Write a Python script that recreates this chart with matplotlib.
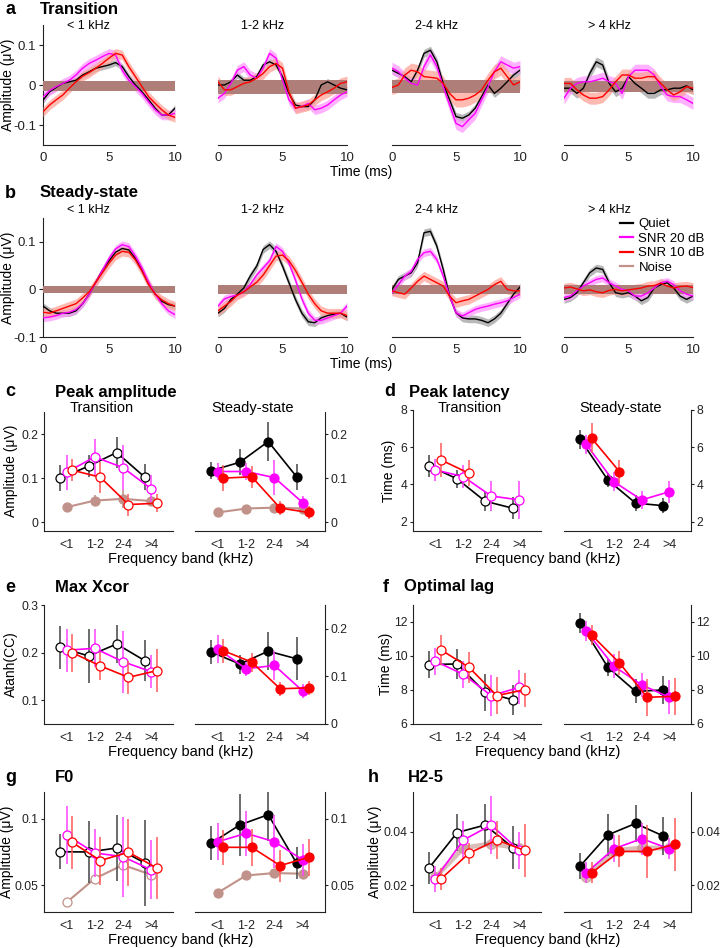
import numpy as np
import matplotlib
matplotlib.use("Agg")
import matplotlib.pyplot as plt
from matplotlib.lines import Line2D
from matplotlib.ticker import FuncFormatter

plt.rcParams['font.family'] = ['Liberation Sans', 'DejaVu Sans']
plt.rcParams['axes.unicode_minus'] = False

W, H = 722, 948

# ---------------- data ----------------
band_titles = ['< 1 kHz', '1-2 kHz', '2-4 kHz', '> 4 kHz']
band_ticks = ['<1', '1-2', '2-4', '>4']
cond_names = ['Quiet', 'SNR 20 dB', 'SNR 10 dB', 'Noise']
t_ms = np.arange(0, 10.01, 0.5)

# panel a: transition waveforms (uV), one list per band
trans_quiet = [
    [-0.038, -0.017, -0.006, 0.004, 0.008, 0.012, 0.025, 0.033, 0.042, 0.046, 0.05, 0.056, 0.046, 0.021, 0.0, -0.017, -0.037, -0.058, -0.075, -0.075, -0.058],
    [0.0, 0.0, 0.008, 0.025, 0.012, 0.012, 0.021, 0.05, 0.058, 0.05, 0.021, -0.021, -0.05, -0.054, -0.054, -0.037, 0.0, 0.008, 0.0, -0.008, -0.012],
    [0.037, 0.029, 0.021, 0.008, 0.037, 0.079, 0.087, 0.058, 0.004, -0.037, -0.079, -0.083, -0.075, -0.058, -0.029, 0.0, -0.021, -0.008, 0.008, 0.025, 0.037],
    [-0.008, -0.008, -0.021, -0.008, 0.029, 0.058, 0.05, 0.004, -0.017, -0.008, 0.021, 0.004, -0.008, -0.021, -0.021, -0.012, -0.012, -0.008, -0.008, -0.002, -0.012],
]
trans_snr20 = [
    [-0.03, -0.014, -0.004, 0.004, 0.012, 0.025, 0.042, 0.054, 0.062, 0.071, 0.079, 0.075, 0.037, 0.012, -0.004, -0.021, -0.042, -0.062, -0.075, -0.075, -0.071],
    [-0.033, -0.021, 0.004, 0.037, 0.046, 0.025, 0.017, 0.042, 0.079, 0.067, 0.012, -0.037, -0.058, -0.054, -0.046, -0.062, -0.058, -0.05, -0.037, -0.025, -0.017],
    [0.042, 0.033, 0.017, 0.004, 0.0, 0.046, 0.075, 0.046, -0.004, -0.05, -0.096, -0.104, -0.087, -0.071, -0.037, -0.004, 0.033, 0.058, 0.05, 0.042, 0.046],
    [-0.033, -0.008, 0.004, 0.008, 0.008, 0.012, 0.017, 0.008, 0.004, -0.021, 0.021, 0.037, 0.037, 0.037, 0.025, -0.004, -0.025, -0.029, -0.029, -0.037, -0.046],
]
trans_snr10 = [
    [-0.067, -0.05, -0.037, -0.025, -0.008, 0.008, 0.022, 0.031, 0.042, 0.054, 0.067, 0.079, 0.075, 0.046, 0.021, -0.004, -0.029, -0.046, -0.062, -0.075, -0.081],
    [0.008, -0.012, -0.012, -0.004, 0.004, 0.008, 0.017, 0.029, 0.046, 0.054, 0.042, -0.017, -0.058, -0.054, -0.05, -0.037, -0.025, -0.017, -0.008, 0.004, 0.008],
    [-0.006, 0.0, 0.025, 0.037, 0.033, 0.021, 0.019, 0.017, 0.004, -0.021, -0.037, -0.037, -0.033, -0.025, -0.012, 0.012, 0.033, 0.042, 0.021, 0.0, 0.008],
    [0.004, 0.004, -0.012, -0.025, -0.033, -0.033, -0.029, -0.012, 0.008, 0.025, 0.025, 0.017, 0.017, 0.021, 0.021, 0.004, -0.012, -0.025, -0.017, -0.004, -0.008],
]
trans_sem = [[0.008, 0.008, 0.01, 0.012], [0.012, 0.012, 0.015, 0.015], [0.012, 0.014, 0.018, 0.015]]
noise_trans_mid = [-0.003, -0.005, -0.004, -0.003]
noise_trans_sem = [0.013, 0.017, 0.016, 0.014]

# panel b: steady-state waveforms (uV)
steady_quiet = [
    [-0.035, -0.045, -0.05, -0.05, -0.05, -0.045, -0.03, -0.01, 0.015, 0.04, 0.06, 0.078, 0.086, 0.083, 0.065, 0.04, 0.012, -0.01, -0.025, -0.032, -0.035],
    [-0.05, -0.04, -0.021, -0.01, 0.003, 0.028, 0.049, 0.084, 0.094, 0.08, 0.049, 0.014, -0.021, -0.05, -0.068, -0.07, -0.06, -0.055, -0.052, -0.05, -0.058],
    [0.0, 0.021, 0.028, 0.035, 0.056, 0.119, 0.122, 0.091, 0.042, -0.014, -0.049, -0.06, -0.062, -0.062, -0.065, -0.07, -0.062, -0.05, -0.03, -0.01, 0.005],
    [-0.021, -0.017, -0.007, 0.014, 0.035, 0.045, 0.042, 0.014, -0.007, -0.01, -0.007, -0.014, -0.024, -0.017, 0.003, 0.01, 0.014, 0.003, -0.014, -0.021, -0.014],
]
steady_snr20 = [
    [-0.06, -0.058, -0.055, -0.05, -0.048, -0.042, -0.03, -0.01, 0.015, 0.04, 0.065, 0.085, 0.094, 0.09, 0.07, 0.045, 0.015, -0.01, -0.03, -0.045, -0.053],
    [-0.035, -0.02, -0.015, -0.012, -0.005, 0.01, 0.03, 0.045, 0.06, 0.09, 0.08, 0.055, 0.02, -0.02, -0.05, -0.065, -0.065, -0.06, -0.055, -0.05, -0.035],
    [-0.007, 0.01, 0.028, 0.038, 0.063, 0.077, 0.08, 0.063, 0.028, -0.014, -0.049, -0.056, -0.049, -0.042, -0.038, -0.035, -0.031, -0.028, -0.024, -0.017, -0.01],
    [-0.017, -0.014, -0.003, 0.007, 0.014, 0.021, 0.024, 0.014, 0.007, 0.0, -0.003, -0.014, -0.014, -0.007, 0.003, 0.014, 0.017, 0.01, -0.003, -0.01, -0.014],
]
steady_snr10 = [
    [-0.048, -0.05, -0.045, -0.04, -0.035, -0.03, -0.018, -0.005, 0.015, 0.035, 0.055, 0.072, 0.08, 0.078, 0.062, 0.038, 0.01, -0.01, -0.022, -0.03, -0.035],
    [-0.045, -0.035, -0.025, -0.012, -0.005, 0.005, 0.015, 0.03, 0.05, 0.07, 0.072, 0.06, 0.04, 0.015, -0.01, -0.03, -0.045, -0.05, -0.05, -0.05, -0.055],
    [-0.003, -0.007, -0.01, 0.003, 0.017, 0.028, 0.021, 0.014, 0.007, -0.014, -0.028, -0.024, -0.021, -0.014, -0.007, 0.0, 0.01, 0.017, 0.0, -0.003, -0.003],
    [0.003, 0.005, 0.001, -0.003, -0.001, -0.005, -0.007, -0.002, 0.0, -0.003, -0.001, 0.001, 0.003, 0.007, 0.008, 0.013, 0.007, 0.003, 0.006, 0.007, 0.004],
]
steady_sem = [[0.007, 0.008, 0.008, 0.008], [0.008, 0.008, 0.008, 0.008], [0.01, 0.01, 0.01, 0.01]]
noise_steady_mid = [0.0, 0.0, 0.0, 0.0]
noise_steady_sem = [0.008, 0.009, 0.01, 0.009]

nan = np.nan
# summary panels: rows = quiet, snr20, snr10, (noise)
peak_amp_trans = [[0.10, 0.127, 0.158, 0.102], [0.113, 0.148, 0.124, 0.076], [0.118, 0.102, 0.04, 0.043], [0.034, 0.049, 0.053, 0.048]]
peak_amp_trans_err = [[0.03, 0.025, 0.035, 0.03], [0.04, 0.04, 0.05, 0.03], [0.025, 0.035, 0.025, 0.02], [0.01, 0.012, 0.02, 0.012]]
peak_amp_steady = [[0.117, 0.136, 0.183, 0.103], [0.115, 0.115, 0.101, 0.044], [0.1, 0.103, 0.032, 0.022], [0.022, 0.031, 0.033, 0.031]]
peak_amp_steady_err = [[0.02, 0.03, 0.045, 0.03], [0.02, 0.02, 0.04, 0.015], [0.03, 0.025, 0.015, 0.015], [0.005, 0.006, 0.006, 0.006]]

peak_lat_trans = [[5.0, 4.3, 3.1, 2.72], [4.78, 4.42, 3.38, 3.17], [5.32, 4.6, nan, nan]]
peak_lat_trans_err = [[0.6, 0.5, 0.5, 0.6], [0.6, 0.6, 0.8, 1.0], [0.9, 0.7, nan, nan]]
peak_lat_steady = [[6.43, 4.24, 3.0, 2.86], [6.16, 4.15, 3.17, 3.61], [6.48, 4.69, nan, nan]]
peak_lat_steady_err = [[0.5, 0.4, 0.45, 0.4], [0.5, 0.5, 0.5, 0.6], [0.8, 0.6, nan, nan]]

xcor_trans = [[0.211, 0.193, 0.218, 0.183], [0.205, 0.209, 0.181, 0.16], [0.2, 0.172, 0.148, 0.162]]
xcor_trans_err = [[0.045, 0.056, 0.04, 0.043], [0.045, 0.04, 0.065, 0.035], [0.04, 0.03, 0.035, 0.045]]
xcor_steady = [[0.151, 0.126, 0.153, 0.137], [0.158, 0.116, 0.123, 0.069], [0.154, 0.13, 0.074, 0.076]]
xcor_steady_err = [[0.025, 0.02, 0.04, 0.045], [0.03, 0.015, 0.03, 0.015], [0.025, 0.02, 0.015, 0.015]]

lag_trans = [[9.5, 9.53, 7.86, 7.42], [9.69, 8.92, 7.67, 8.15], [10.36, 9.34, 7.67, 8.02]]
lag_trans_err = [[0.8, 0.9, 1.1, 0.9], [0.8, 0.8, 1.2, 1.0], [0.9, 0.9, 1.1, 1.0]]
lag_steady = [[11.95, 9.34, 7.92, 8.0], [11.47, 9.4, 8.3, 7.57], [11.23, 9.59, 7.57, 7.63]]
lag_steady_err = [[0.6, 0.5, 0.7, 0.8], [0.6, 0.7, 0.7, 1.0], [0.6, 0.7, 1.1, 1.1]]

f0_trans = [[0.0752, 0.075, 0.078, 0.0668], [0.0878, 0.0743, 0.0715, 0.0617], [0.0822, 0.0686, 0.0748, 0.0631], [0.0372, 0.055, 0.0653, 0.058]]
f0_trans_err = [[0.013, 0.023, 0.025, 0.032], [0.022, 0.018, 0.03, 0.022], [0.02, 0.018, 0.025, 0.023], [0.001, 0.001, 0.001, 0.001]]
f0_steady = [[0.0817, 0.0953, 0.103, 0.0666], [0.0827, 0.089, 0.0827, 0.069], [0.0785, 0.0785, 0.0648, 0.071], [0.0444, 0.0574, 0.0592, 0.0587]]
f0_steady_err = [[0.013, 0.023, 0.02, 0.012], [0.014, 0.017, 0.02, 0.012], [0.013, 0.014, 0.012, 0.014], [0.001, 0.001, 0.001, 0.001]]

h25_trans = [[0.0266, 0.0398, 0.0426, 0.0341], [0.0224, 0.037, 0.0426, 0.0331], [0.0224, 0.032, 0.037, 0.0331], [0.023, 0.034, 0.0356, 0.034]]
h25_trans_err = [[0.006, 0.007, 0.008, 0.008], [0.005, 0.007, 0.011, 0.007], [0.004, 0.004, 0.007, 0.01], [0.001, 0.001, 0.001, 0.001]]
h25_steady = [[0.0272, 0.0389, 0.0432, 0.0385], [0.0247, 0.0337, 0.0375, 0.0337], [0.0247, 0.0327, 0.0327, 0.0354], [0.023, 0.033, 0.034, 0.034]]
h25_steady_err = [[0.005, 0.008, 0.007, 0.007], [0.004, 0.005, 0.006, 0.004], [0.004, 0.006, 0.01, 0.01], [0.001, 0.001, 0.001, 0.001]]

# ---------------- style ----------------
line_col = ['black', '#FF00FF', '#FF0000', '#C0928A']
fill_col = ['#A0A0A0', '#FF99FF', '#FFA399']
err_col = ['#444444', '#FF44FF', '#FF5A5A', '#C0928A']
noise_band_col = '#B07E78'
offsets = [-0.22, 0.0, 0.2, 0.0]
fmt = FuncFormatter(lambda v, p: '%g' % v)

fig = plt.figure(figsize=(W / 100, H / 100), dpi=100)


def add_ax(x0, y0, x1, y1):
    return fig.add_axes([x0 / W, 1 - y1 / H, (x1 - x0) / W, (y1 - y0) / H])


def ftxt(x, y, s, **kw):
    kw.setdefault('va', 'center')
    fig.text(x / W, 1 - y / H, s, **kw)


def style_ax(ax, size=9.5):
    for sp in ax.spines.values():
        sp.set_linewidth(0.8)
        sp.set_color('#222222')
    ax.tick_params(labelsize=size, width=0.8, length=3, colors='#222222', pad=2)
    ax.patch.set_alpha(0)


wave_x = [(43, 175), (218, 347), (392, 520), (564, 693)]


def draw_waves(y0, y1, ylim, curves, sems, nmid, nsem, title_y):
    axes = []
    for b in range(4):
        ax = add_ax(wave_x[b][0], y0, wave_x[b][1], y1)
        style_ax(ax)
        for c in range(3):
            y = np.array(curves[c][b])
            ax.fill_between(t_ms, y - sems[c][b], y + sems[c][b], color=fill_col[c],
                            lw=0, alpha=0.75, zorder=1 + c)
        ax.fill_between(t_ms, np.full(t_ms.size, nmid[b] - nsem[b]), np.full(t_ms.size, nmid[b] + nsem[b]),
                        color=noise_band_col, lw=0, zorder=4)
        for c in range(3):
            ax.plot(t_ms, curves[c][b], color=line_col[c], lw=1.0, zorder=5 + c)
        ax.set_xlim(0, 10)
        ax.set_ylim(*ylim)
        ax.set_xticks([0, 5, 10])
        ax.tick_params(axis='x', length=0, pad=5)
        ax.spines['top'].set_visible(False)
        ax.spines['right'].set_visible(False)
        if b == 0:
            ax.set_yticks([-0.1, 0, 0.1])
            ax.yaxis.set_major_formatter(fmt)
        else:
            ax.spines['left'].set_visible(False)
            ax.set_yticks([])
        ftxt(wave_x[b][0] + 45, title_y, band_titles[b], ha='center', fontsize=9)
        axes.append(ax)
    return axes


# ---- panel a ----
draw_waves(25, 145, (-0.15, 0.15), [trans_quiet, trans_snr20, trans_snr10], trans_sem,
           noise_trans_mid, noise_trans_sem, 26)
ftxt(10, 9, 'a', ha='center', fontsize=13, fontweight='bold')
ftxt(40, 9, 'Transition', ha='left', fontsize=12, fontweight='bold')
ftxt(8, 85, 'Amplitude (μV)', ha='center', rotation=90, fontsize=10)
ftxt(361, 172, 'Time (ms)', ha='center', fontsize=10)

# ---- panel b ----
axb = draw_waves(218, 337, (-0.1, 0.15), [steady_quiet, steady_snr20, steady_snr10], steady_sem,
                 noise_steady_mid, noise_steady_sem, 210)
ftxt(10, 193, 'b', ha='center', fontsize=13, fontweight='bold')
ftxt(40, 193, 'Steady-state', ha='left', fontsize=12, fontweight='bold')
ftxt(8, 278, 'Amplitude (μV)', ha='center', rotation=90, fontsize=10)
ftxt(361, 364, 'Time (ms)', ha='center', fontsize=10)
handles = [Line2D([], [], color=line_col[k], lw=1.6) for k in range(4)]
fig.legend(handles, cond_names, loc='upper left', bbox_to_anchor=(620 / W, 1 - 218 / H),
           frameon=False, fontsize=9.5, handlelength=1.0, handletextpad=0.4,
           labelspacing=0.18, borderpad=0, borderaxespad=0)

# ---------------- summary panels ----------------
left_cols = [(44, 173), (195, 325)]
right_cols = [(413, 541), (564, 691)]


def draw_summary(cols, y0, y1, ylims, yticks, data, errs, noise_open=False, noise_thick=False):
    for side in range(2):
        ax = add_ax(cols[side][0], y0, cols[side][1], y1)
        style_ax(ax, 8.7)
        vals, ers = data[side], errs[side]
        for k in range(len(vals)):
            x = np.arange(1, 5) + offsets[k]
            v = np.array(vals[k], dtype=float)
            e = np.array(ers[k], dtype=float)
            z = 3 + k
            if k == 3:
                z = 1
                ax.errorbar(x, v, yerr=e, fmt='none', ecolor=err_col[k], elinewidth=1.2, zorder=z)
                filled = not (side == 0 and noise_open)
                if noise_thick:
                    ax.plot(x, v, '-o', color=line_col[k], lw=3.5, alpha=0.6, ms=7,
                            mec=line_col[k], zorder=z)
                else:
                    ax.plot(x, v, '-o', color=line_col[k], lw=1.5, ms=6.5,
                            mfc=line_col[k] if filled else 'white', mec=line_col[k], mew=0.9, zorder=z)
                continue
            ax.errorbar(x, v, yerr=e, fmt='none', ecolor=err_col[k], elinewidth=1.1, zorder=z)
            ax.plot(x, v, '-o', color=line_col[k], lw=1.2, ms=6.5,
                    mfc='white' if side == 0 else line_col[k], mec=line_col[k], mew=0.9, zorder=z + 0.5)
        ax.set_xlim(0.2, 4.78)
        ax.set_ylim(*ylims[side])
        ax.set_xticks([1, 2, 3, 4])
        ax.set_xticklabels(band_ticks)
        ax.tick_params(axis='x', length=0, pad=6, labelsize=9)
        ax.tick_params(axis='y', length=2.5, pad=1.5)
        ax.set_yticks(yticks[side])
        ax.yaxis.set_major_formatter(fmt)
        ax.spines['top'].set_visible(False)
        if side == 0:
            ax.spines['right'].set_visible(False)
        else:
            ax.spines['left'].set_visible(False)
            ax.yaxis.tick_right()
    cx = (cols[0][0] + cols[1][1]) / 2 - 4
    ftxt(cx, y1 + 28, 'Frequency band (kHz)', ha='center', fontsize=10.5)


def panel_head(lx, tx, y, letter, title):
    ftxt(lx, y, letter, ha='center', fontsize=13, fontweight='bold')
    ftxt(tx, y, title, ha='left', fontsize=12, fontweight='bold')


# c
draw_summary(left_cols, 412, 531, [(-0.02, 0.25), (-0.02, 0.25)], [[0, 0.1, 0.2], [0, 0.1, 0.2]],
             [peak_amp_trans, peak_amp_steady], [peak_amp_trans_err, peak_amp_steady_err])
panel_head(10, 55, 392, 'c', 'Peak amplitude')
ftxt(102, 408, 'Transition', ha='center', fontsize=10.5)
ftxt(253, 408, 'Steady-state', ha='center', fontsize=10.5)
ftxt(11, 471, 'Amplitude (μV)', ha='center', rotation=90, fontsize=10)

# d
draw_summary(right_cols, 410, 531, [(1.5, 8), (1.5, 8)], [[2, 4, 6, 8], [2, 4, 6, 8]],
             [peak_lat_trans, peak_lat_steady], [peak_lat_trans_err, peak_lat_steady_err])
panel_head(390, 409, 392, 'd', 'Peak latency')
ftxt(470, 408, 'Transition', ha='center', fontsize=10.5)
ftxt(621, 408, 'Steady-state', ha='center', fontsize=10.5)
ftxt(389, 471, 'Time (ms)', ha='center', rotation=90, fontsize=10)

# e
draw_summary(left_cols, 605, 724, [(0.05, 0.3), (0, 0.25)], [[0.1, 0.2, 0.3], [0, 0.1, 0.2]],
             [xcor_trans, xcor_steady], [xcor_trans_err, xcor_steady_err])
panel_head(10, 55, 587, 'e', 'Max Xcor')
ftxt(11, 664, 'Atanh(CC)', ha='center', rotation=90, fontsize=10)

# f
draw_summary(right_cols, 605, 724, [(6, 13), (6, 13)], [[6, 8, 10, 12], [6, 8, 10, 12]],
             [lag_trans, lag_steady], [lag_trans_err, lag_steady_err])
panel_head(386, 404, 587, 'f', 'Optimal lag')
ftxt(386, 664, 'Time (ms)', ha='center', rotation=90, fontsize=10)

# g
draw_summary(left_cols, 792, 912, [(0.03, 0.12), (0.03, 0.12)], [[0.05, 0.1], [0.05, 0.1]],
             [f0_trans, f0_steady], [f0_trans_err, f0_steady_err], noise_open=True)
panel_head(11, 55, 777, 'g', 'F0')
ftxt(7, 852, 'Amplitude (μV)', ha='center', rotation=90, fontsize=10)

# h
draw_summary(right_cols, 792, 912, [(0.01, 0.055), (0.01, 0.055)], [[0.02, 0.04], [0.02, 0.04]],
             [h25_trans, h25_steady], [h25_trans_err, h25_steady_err], noise_thick=True)
panel_head(373, 408, 777, 'h', 'H2-5')
ftxt(375, 852, 'Amplitude (μV)', ha='center', rotation=90, fontsize=10)

fig.savefig('out.png', dpi=100)
